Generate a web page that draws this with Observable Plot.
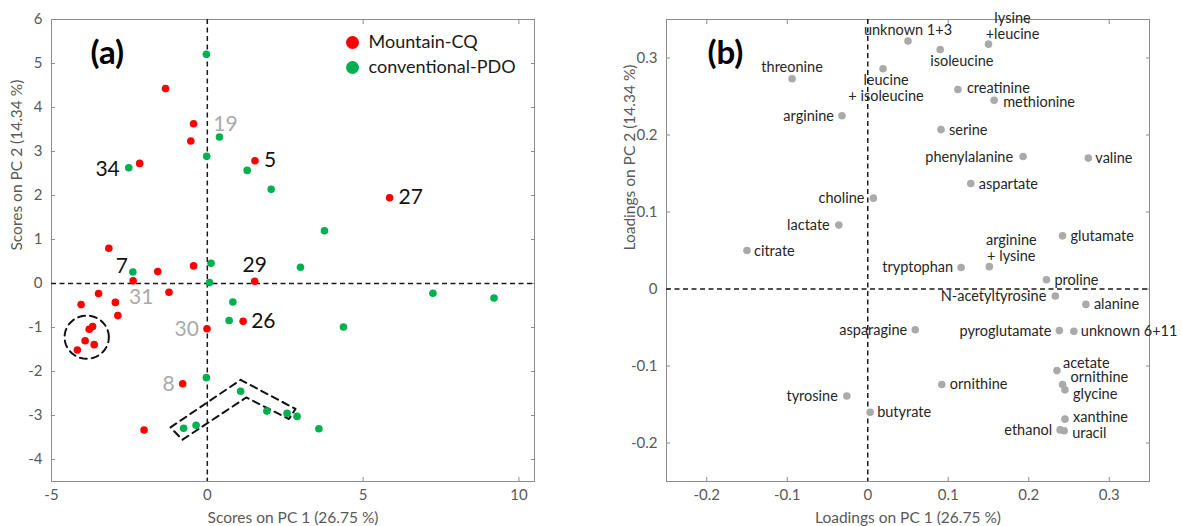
<!DOCTYPE html>
<html>
<head>
<meta charset="utf-8">
<script src="https://cdn.jsdelivr.net/npm/d3@7"></script>
<script src="https://cdn.jsdelivr.net/npm/@observablehq/plot@0.6"></script>
<style>
  html, body { margin: 0; padding: 0; background: #fff; }
  #wrap { display: flex; width: 1182px; height: 526px; }
  #wrap svg { overflow: visible; }
</style>
</head>
<body>
<div id="wrap"></div>
<script>
// ---------- Panel (a) data: PCA scores ----------
const groupNames = ["Mountain-CQ", "conventional-PDO"];
const groupColors = ["#ff0000", "#00b050"];

const mountainPC1 = [-1.34, -0.44, -0.53, 1.53, -2.17, -3.16, 5.85, -0.44, -1.59, -2.38, 1.52, -3.49, -4.05, -1.23, -2.95, -2.87, 1.15, -0.01, -3.68, -3.79, -3.92, -3.63, -4.17, -0.79, -2.03];
const mountainPC2 = [4.43, 3.63, 3.24, 2.79, 2.73, 0.80, 1.95, 0.40, 0.27, 0.06, 0.05, -0.23, -0.48, -0.20, -0.43, -0.73, -0.86, -1.03, -0.98, -1.04, -1.30, -1.39, -1.51, -2.28, -3.33];
const pdoPC1 = [-0.03, 0.39, -0.02, 1.28, -2.52, 2.05, 3.76, 0.12, -2.39, 0.07, 2.99, 0.82, 0.70, -0.03, 1.07, 1.91, 2.56, 2.88, -0.36, -0.76, 7.24, 9.20, 4.37, 3.58];
const pdoPC2 = [5.21, 3.33, 2.89, 2.57, 2.63, 2.14, 1.20, 0.46, 0.26, 0.02, 0.37, -0.42, -0.84, -2.14, -2.45, -2.90, -2.95, -3.02, -3.22, -3.29, -0.22, -0.33, -0.99, -3.30];

// labelled samples: text, group (0 = Mountain-CQ, 1 = PDO), index in that group
const sampleLabelText = ["34", "19", "5", "27", "7", "29", "31", "26", "30", "8"];
const sampleLabelGroup = [1, 1, 0, 0, 1, 0, 0, 0, 0, 0];
const sampleLabelIndex = [4, 1, 3, 6, 8, 10, 9, 16, 17, 23];

// annotation outlines (data coordinates)
const clusterCenter = [-3.87, -1.22];
const clusterRadius = [0.71, 0.49];
const chevronPC1 = [-1.18, 1.07, 2.83, 2.62, 1.25, -0.80];
const chevronPC2 = [-3.27, -2.19, -2.85, -3.08, -2.59, -3.55];

const scoreXTicks = [-5, 0, 5, 10];
const scoreYTicks = [-4, -3, -2, -1, 0, 1, 2, 3, 4, 5, 6];

// ---------- Panel (b) data: PCA loadings ----------
const metabolites = ["threonine", "leucine\n+ isoleucine", "unknown 1+3", "isoleucine", "lysine\n+leucine",
  "arginine", "creatinine", "methionine", "serine", "phenylalanine", "valine", "aspartate", "choline",
  "lactate", "citrate", "glutamate", "arginine\n+ lysine", "tryptophan", "proline", "N-acetyltyrosine",
  "alanine", "asparagine", "pyroglutamate", "unknown 6+11", "acetate", "ornithine", "ornithine",
  "glycine", "tyrosine", "butyrate", "xanthine", "ethanol", "uracil"];
const loadingPC1 = [-0.094, 0.019, 0.050, 0.090, 0.150, -0.032, 0.112, 0.157, 0.091, 0.193, 0.274, 0.128, 0.007,
  -0.036, -0.150, 0.242, 0.151, 0.116, 0.222, 0.233, 0.271, 0.059, 0.238, 0.256, 0.235, 0.092, 0.242,
  0.245, -0.026, 0.003, 0.245, 0.239, 0.244];
const loadingPC2 = [0.273, 0.286, 0.322, 0.311, 0.318, 0.225, 0.259, 0.245, 0.207, 0.172, 0.170, 0.137, 0.118,
  0.083, 0.050, 0.069, 0.029, 0.028, 0.012, -0.009, -0.020, -0.053, -0.054, -0.055, -0.106, -0.124, -0.124,
  -0.131, -0.139, -0.160, -0.169, -0.183, -0.184];
const loadingTicks = [-0.2, -0.1, 0, 0.1, 0.2, 0.3];

// ---------- styles ----------
const FONT = "Lato, 'Open Sans', 'DejaVu Sans', sans-serif";
const FRAME = "#8c8c8c";
const TICKTXT = "#595959";
// per-sample-label placement [textAnchor, dx, dy, color]
const sampleLabelStyle = [
  ["end", -9, 1, "#111"], ["middle", 6, -13, "#aaa"], ["start", 9, 0, "#111"], ["start", 9, 0, "#111"],
  ["end", -5, -6, "#111"], ["middle", 0, -16, "#111"], ["middle", 8, 16, "#aaa"], ["start", 8, 0, "#111"],
  ["end", -8, 0, "#aaa"], ["end", -8, 0, "#aaa"]
];
// per-metabolite label placement [textAnchor, dx, dy]
const metaboliteLabelStyle = [
  ["middle", 0, -12], ["middle", 3, 19], ["middle", 0, -11], ["start", -10, 11], ["middle", 24, -18],
  ["end", -8, 0], ["start", 9, -2], ["start", 9, 2], ["start", 8, 0], ["end", -10, 0], ["start", 7, 0],
  ["start", 8, 0], ["end", -9, 0], ["end", -9, 0], ["start", 7, 0], ["start", 8, 0], ["middle", 22, -19],
  ["end", -8, 0], ["start", 8, 0], ["end", -9, 0], ["start", 8, 0], ["end", -8, 0], ["end", -8, 0],
  ["start", 7, 0], ["start", 6, -8], ["start", 8, 0], ["start", 8, -7], ["start", 8, 4], ["end", -9, 0],
  ["start", 7, 0], ["start", 8, -2], ["end", -8, 0], ["start", 8, 2]
];

const fmt = d => String(d);
function boxAxes(xTicks, yTicks) {
  const common = {tickSize: -4, label: null, stroke: FRAME, fill: TICKTXT, fontSize: 15};
  return [
    Plot.axisX({...common, anchor: "bottom", ticks: xTicks, tickFormat: fmt, tickPadding: 12}),
    Plot.axisX({...common, anchor: "top", ticks: xTicks, tickFormat: () => null}),
    Plot.axisY({...common, anchor: "left", ticks: yTicks, tickFormat: fmt, tickPadding: 13}),
    Plot.axisY({...common, anchor: "right", ticks: yTicks, tickFormat: () => null})
  ];
}
function axisTitles(xTitle, yTitle, yDx) {
  return [
    Plot.text([xTitle], {frameAnchor: "bottom", dy: 37, fontSize: 15.5, fill: TICKTXT, lineAnchor: "middle"}),
    Plot.text([yTitle], {frameAnchor: "left", dx: yDx, rotate: -90, fontSize: 15.5, fill: TICKTXT, lineAnchor: "middle"})
  ];
}
const zeroDash = {stroke: "#1a1a1a", strokeWidth: 1.5, strokeDasharray: "5,3.5"};

// ---------- build panel (a) ----------
const scores = [
  ...mountainPC1.map((x, i) => ({pc1: x, pc2: mountainPC2[i], group: 0})),
  ...pdoPC1.map((x, i) => ({pc1: x, pc2: pdoPC2[i], group: 1}))
];
const groupX = [mountainPC1, pdoPC1];
const groupY = [mountainPC2, pdoPC2];
const ellipse = d3.range(0, 361, 4).map(a => ({
  pc1: clusterCenter[0] + clusterRadius[0] * Math.cos(a * Math.PI / 180),
  pc2: clusterCenter[1] + clusterRadius[1] * Math.sin(a * Math.PI / 180)
}));
const chevron = [...chevronPC1, chevronPC1[0]].map((x, i) => ({pc1: x, pc2: [...chevronPC2, chevronPC2[0]][i]}));

const sampleLabelMarks = sampleLabelText.map((t, k) => {
  const [anchor, dx, dy, color] = sampleLabelStyle[k];
  const g = sampleLabelGroup[k], i = sampleLabelIndex[k];
  return Plot.text([t], {
    x: () => groupX[g][i], y: () => groupY[g][i], text: d => d,
    textAnchor: anchor, dx, dy, fill: color, fontSize: 21, lineAnchor: "middle"
  });
});
const legendMarks = groupNames.flatMap((name, k) => [
  Plot.dot([name], {frameAnchor: "top-right", dx: -182, dy: 23 + 25 * k, r: 6.5, fill: groupColors[k]}),
  Plot.text([name], {frameAnchor: "top-right", dx: -166, dy: 23 + 25 * k, textAnchor: "start", lineAnchor: "middle", fontSize: 18, fill: "#1a1a1a"})
]);

const panelA = Plot.plot({
  width: 600, height: 526,
  marginLeft: 51, marginRight: 66, marginTop: 19, marginBottom: 45,
  style: {fontFamily: FONT, background: "transparent", overflow: "visible"},
  x: {domain: [-5, 10.5]},
  y: {domain: [-4.5, 6]},
  marks: [
    Plot.frame({stroke: FRAME}),
    ...boxAxes(scoreXTicks, scoreYTicks),
    Plot.ruleX([0], zeroDash),
    Plot.ruleY([0], zeroDash),
    Plot.line(ellipse, {x: "pc1", y: "pc2", stroke: "#111", strokeWidth: 2, strokeDasharray: "7,5"}),
    Plot.line(chevron, {x: "pc1", y: "pc2", stroke: "#111", strokeWidth: 2, strokeDasharray: "7,5"}),
    Plot.dot(scores, {x: "pc1", y: "pc2", r: 3.8, fill: d => groupColors[d.group], stroke: "none"}),
    ...sampleLabelMarks,
    ...legendMarks,
    Plot.text(["(a)"], {frameAnchor: "top-left", dx: 39, dy: 34, fontSize: 33, fontWeight: "bold", fill: "#000", lineAnchor: "middle"}),
    ...axisTitles("Scores on PC 1 (26.75 %)", "Scores on PC 2 (14.34 %)", -34)
  ]
});

// ---------- build panel (b) ----------
const loadings = metabolites.map((name, i) => ({name, pc1: loadingPC1[i], pc2: loadingPC2[i]}));
const loadingLabelMarks = loadings.map((d, i) => {
  const [anchor, dx, dy] = metaboliteLabelStyle[i];
  return Plot.text([d], {
    x: "pc1", y: "pc2", text: "name", textAnchor: anchor, dx, dy,
    lineAnchor: "middle", lineHeight: 1.08, fontSize: 14.5, fill: "#262626"
  });
});

const panelB = Plot.plot({
  width: 582, height: 526,
  marginLeft: 66, marginRight: 33, marginTop: 19, marginBottom: 45,
  style: {fontFamily: FONT, background: "transparent", overflow: "visible"},
  x: {domain: [-0.25, 0.35]},
  y: {domain: [-0.25, 0.35]},
  marks: [
    Plot.frame({stroke: FRAME}),
    ...boxAxes(loadingTicks, loadingTicks),
    Plot.ruleX([0], zeroDash),
    Plot.ruleY([0], zeroDash),
    Plot.dot(loadings, {x: "pc1", y: "pc2", r: 3.8, fill: "#aaaaaa", stroke: "none"}),
    ...loadingLabelMarks,
    Plot.text(["(b)"], {frameAnchor: "top-left", dx: 41, dy: 34, fontSize: 33, fontWeight: "bold", fill: "#000", lineAnchor: "middle"}),
    ...axisTitles("Loadings on PC 1 (26.75 %)", "Loadings on PC 2 (14.34 %)", -36)
  ]
});

document.getElementById("wrap").append(panelA, panelB);
</script>
</body>
</html>
